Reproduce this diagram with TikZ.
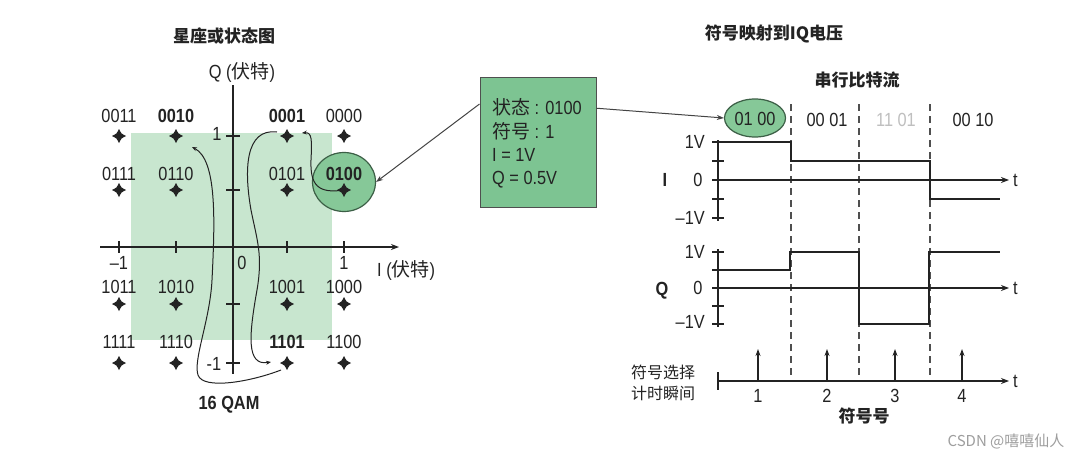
\documentclass[tikz,border=0pt]{standalone}
\usepackage{fontspec}
\setmainfont{Liberation Sans}[FakeStretch=0.86]
\newfontfamily\cjk{Noto Sans CJK SC}
\usetikzlibrary{arrows.meta,shapes.geometric}
\definecolor{rectgreen}{RGB}{200,230,207}
\definecolor{midgreen}{RGB}{134,200,152}
\definecolor{boxgreen}{RGB}{125,196,146}
\definecolor{edgegreen}{RGB}{60,95,70}
\definecolor{ink}{RGB}{35,35,35}
\tikzset{
  lbl/.style={font=\fontsize{19}{21}\selectfont, inner sep=0pt, text=ink},
  blbl/.style={font=\fontsize{19}{21}\selectfont\bfseries, inner sep=0pt, text=ink},
  cjkt/.style={font=\cjk\fontsize{17}{19}\selectfont\bfseries, inner sep=0pt, text=ink},
  cjkl/.style={font=\cjk\fontsize{16}{20}\selectfont, inner sep=0pt, text=ink, align=center},
  axisline/.style={line width=1.3pt, draw=ink},
  axarrow/.style={axisline, -{Stealth[length=8pt,width=6pt]}},
  sig/.style={line width=2pt, draw=ink},
  curv/.style={line width=1pt, draw=ink, -{Stealth[length=5pt,width=4pt]}},
  conn/.style={line width=1pt, draw=ink!85, -{Stealth[length=7pt,width=5pt]}},
  dashln/.style={line width=1.2pt, draw=ink!80, dash pattern=on 7pt off 5pt},
  pics/qpt/.style={code={\fill[ink] (0,-7) .. controls (2.3,-2.3) .. (7,0) .. controls (2.3,2.3) .. (0,7) .. controls (-2.3,2.3) .. (-7,0) .. controls (-2.3,-2.3) .. (0,-7) -- cycle;}}
}
\begin{document}
\begin{tikzpicture}[x=1pt,y=-1pt]
\useasboundingbox (0,0) rectangle (1092,458);
\fill[white] (0,0) rectangle (1092,458);

% ---------------- constellation ----------------
\fill[rectgreen] (131,133) rectangle (332,340);
\node[ellipse, fill=midgreen, draw=edgegreen, line width=1.2pt, minimum width=63pt, minimum height=59pt, inner sep=0pt] (c0100) at (344,182) {};

\node[cjkt] (t1) at (224,36) {\cjk 星座或状态图};
\node[lbl] (qlab) at (242,72) {Q ({\cjk 伏特})};
\node[lbl, anchor=west] (ilab) at (377,270) {I ({\cjk 伏特})};
\node[blbl] (qam) at (229,405) {16 QAM};

\coordinate (ia0) at (100,247); \coordinate (ia1) at (399,247);
\coordinate (qa0) at (233,85);  \coordinate (qa1) at (233,374);
\draw[axarrow] (ia0) -- (ia1);
\draw[axisline] (qa0) -- (qa1);
\foreach \x in {119,176,287,344} \draw[axisline] (\x,241) -- (\x,253);
\foreach \y in {136,190,304,363} \draw[axisline] (226,\y) -- (240,\y);
\node[lbl] (im1) at (119,263) {\textendash 1};
\node[lbl] (i0) at (242,263) {0};
\node[lbl] (ip1) at (344,263) {1};
\node[lbl] (qp1) at (217,134) {1};
\node[lbl] (qm1) at (214,364) {-1};

% points
\foreach \x/\y in {119/136,176/136,287/136,344/136,
                   119/190,176/190,287/190,344/190,
                   119/304,176/304,287/304,344/304,
                   119/363,176/363,287/363,344/363}
  \pic at (\x,\y) {qpt};
\coordinate (p0100) at (344,190);
\coordinate (p0001) at (287,136);
\coordinate (p1101) at (287,363);

\node[lbl]  (l0011) at (119,116) {0011};
\node[blbl] (l0010) at (176,116) {0010};
\node[blbl] (l0001) at (287,116) {0001};
\node[lbl]  (l0000) at (344,116) {0000};
\node[lbl]  (l0111) at (119,174) {0111};
\node[lbl]  (l0110) at (176,174) {0110};
\node[lbl]  (l0101) at (287,174) {0101};
\node[blbl] (l0100) at (344,174) {0100};
\node[lbl]  (l1011) at (119,287) {1011};
\node[lbl]  (l1010) at (176,287) {1010};
\node[lbl]  (l1001) at (287,287) {1001};
\node[lbl]  (l1000) at (344,287) {1000};
\node[lbl]  (l1111) at (119,342) {1111};
\node[lbl]  (l1110) at (176,342) {1110};
\node[blbl] (l1101) at (287,342) {1101};
\node[lbl]  (l1100) at (344,342) {1100};

% path curves
\coordinate (a1) at (302,133);
\coordinate (b0) at (277,132);
\coordinate (b1) at (271,362);
\coordinate (c0) at (281,370);
\coordinate (c1) at (192,147);
\draw[curv] (p0100) .. controls (318,194) and (310,185) .. (311,160) .. controls (312,140) and (312,132) .. (a1);
\draw[curv] (b0) .. controls (245,128) and (244,170) .. (251,210) .. controls (257,240) and (263,255) .. (257,290) .. controls (249,335) and (246,366) .. (b1);
\draw[curv] (c0) .. controls (250,382) and (203,390) .. (198,375) .. controls (193,360) and (210,320) .. (212,280) .. controls (215,220) and (217,160) .. (c1);

% ---------------- info box ----------------
\node[draw=ink!80, fill=boxgreen, line width=1pt, minimum width=116pt, minimum height=130pt, inner sep=0pt] (box) at (538,142) {};
\node[lbl, anchor=west] (bt1) at (492,107) {{\cjk 状态} : 0100};
\node[lbl, anchor=west] (bt2) at (492,131) {{\cjk 符号} : 1};
\node[lbl, anchor=west] (bt3) at (492,155) {I = 1V};
\node[lbl, anchor=west] (bt4) at (492,180) {Q = 0.5V};

% ---------------- waveforms ----------------
\node[cjkt] (t2) at (774,34) {\cjk 符号映射到IQ电压};
\node[cjkt] (t3) at (857,80) {\cjk 串行比特流};
\node[ellipse, fill=midgreen, draw=edgegreen, line width=1.2pt, minimum width=61pt, minimum height=38pt, inner sep=0pt] (e0100) at (755,118) {};
\node[lbl] (b1l) at (755,119) {01 00};
\node[lbl] (b2l) at (827,120) {00 01};
\node[lbl, text=black!25] (b3l) at (896,120) {11 01};
\node[lbl] (b4l) at (973,120) {00 10};

\draw[conn] (box.147) -- (c0100.east);
\draw[conn] (box.30) -- (e0100.west);

\foreach \x in {791,859,930} \draw[dashln] (\x,104) -- (\x,378);

% I
\coordinate (iv0) at (718,140); \coordinate (iv1) at (718,221);
\coordinate (it0) at (718,180); \coordinate (it1) at (1009,180);
\draw[axisline] (iv0) -- (iv1);
\foreach \y in {142,161,180,199,218} \draw[axisline] (712,\y) -- (724,\y);
\draw[axarrow] (it0) -- (it1);
\node[lbl, anchor=west] (tI) at (1013,180) {t};
\node[lbl, anchor=east] (iv1l) at (705,142) {1V};
\node[lbl] (iv0l) at (698,180) {0};
\node[lbl, anchor=east] (ivm1l) at (705,218) {\textendash 1V};
\node[blbl] (Ilab) at (665,180) {I};
\draw[sig] (718,142) -- (791,142) -- (791,161) -- (930,161) -- (930,199) -- (1000,199);

% Q
\coordinate (qv0) at (718,249); \coordinate (qv1) at (718,327);
\coordinate (qt0) at (718,288); \coordinate (qt1) at (1009,288);
\draw[axisline] (qv0) -- (qv1);
\foreach \y in {252,270,288,306,324} \draw[axisline] (712,\y) -- (724,\y);
\draw[axarrow] (qt0) -- (qt1);
\node[lbl, anchor=west] (tQ) at (1013,288) {t};
\node[lbl, anchor=east] (qv1l) at (705,252) {1V};
\node[lbl] (qv0l) at (698,288) {0};
\node[lbl, anchor=east] (qvm1l) at (705,322) {\textendash 1V};
\node[blbl] (Qlab) at (662,291) {Q};
\draw[sig] (718,270) -- (790,270) -- (790,252) -- (859,252) -- (859,324) -- (929,324) -- (929,252) -- (1000,252);

% timing
\coordinate (ts0) at (718,381); \coordinate (ts1) at (1009,381);
\draw[axisline] (718,372) -- (718,390);
\draw[axarrow] (ts0) -- (ts1);
\node[lbl, anchor=west] (tT) at (1013,381) {t};
\foreach \x/\n in {758/1,827/2,895/3,962/4} {
  \draw[axisline, -{Stealth[length=7pt,width=5pt]}] (\x,381) -- (\x,349);
  \node[lbl] (n\n) at (\x,396) {\n};
}
\node[cjkl] (sel1) at (663,372) {符号选择};
\node[cjkl] (sel2) at (663,393) {计时瞬间};
\node[cjkt] (symn) at (864,416) {\cjk 符号号};

\node[font=\cjk\fontsize{15}{17}\selectfont, text=black!38, inner sep=0pt] (wm) at (1006,441) {CSDN @嘻嘻仙人};
\end{tikzpicture}
\end{document}
